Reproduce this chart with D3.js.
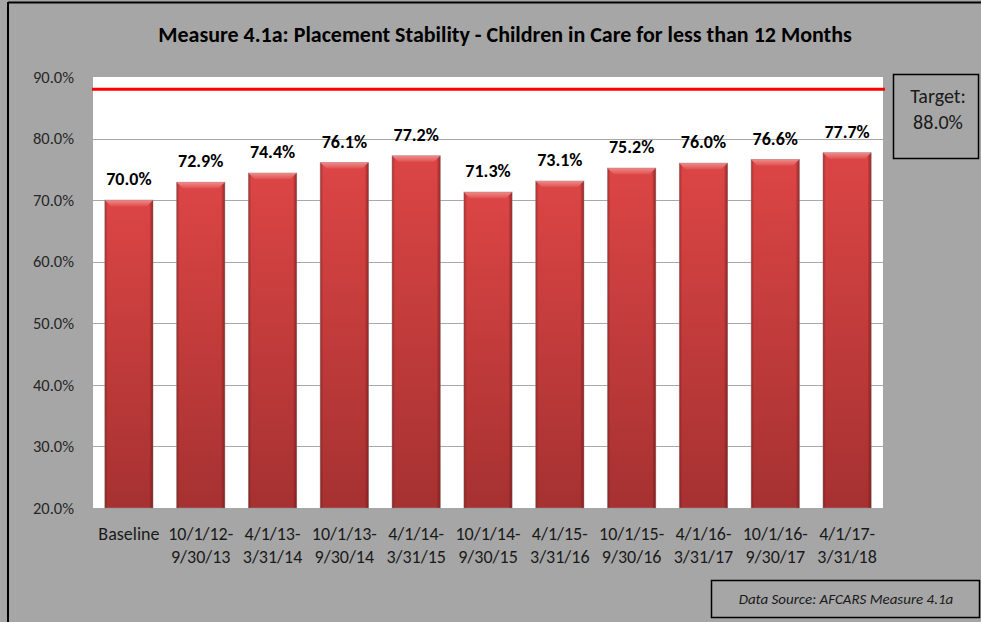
<!DOCTYPE html>
<html>
<head>
<meta charset="utf-8">
<script src="https://cdn.jsdelivr.net/npm/d3@7"></script>
<style>
  html, body { margin: 0; padding: 0; background: #a6a6a6; }
  svg { display: block; }
  text { font-family: Carlito, Calibri, Lato, "Open Sans", sans-serif; }
</style>
</head>
<body>
<svg id="chart" width="981" height="622"></svg>
<script>
// Reporting periods (two-line category labels)
const periodLine1 = ["Baseline", "10/1/12-", "4/1/13-", "10/1/13-", "4/1/14-", "10/1/14-", "4/1/15-", "10/1/15-", "4/1/16-", "10/1/16-", "4/1/17-"];
const periodLine2 = ["", "9/30/13", "3/31/14", "9/30/14", "3/31/15", "9/30/15", "3/31/16", "9/30/16", "3/31/17", "9/30/17", "3/31/18"];
// Placement stability percentages
const stability = [70.0, 72.9, 74.4, 76.1, 77.2, 71.3, 73.1, 75.2, 76.0, 76.6, 77.7];
// Axis ticks and target
const yTicks = [20, 30, 40, 50, 60, 70, 80, 90];
const targetValue = 88.0;

const svg = d3.select("#chart");
const W = 981, H = 622;
const plot = { left: 93, right: 883, top: 77, bottom: 508 };

// Outer frame
svg.append("rect").attr("x", 0).attr("y", 0).attr("width", W).attr("height", H).attr("fill", "#a6a6a6");
svg.append("line").attr("x1", 8).attr("x2", W).attr("y1", 2.5).attr("y2", 2.5).attr("stroke", "#000").attr("stroke-width", 2);
svg.append("line").attr("x1", 8).attr("x2", 8).attr("y1", 2).attr("y2", H).attr("stroke", "#000").attr("stroke-width", 2);

// Title
svg.append("text")
  .attr("x", 505).attr("y", 42)
  .attr("text-anchor", "middle")
  .attr("font-size", 22).attr("font-weight", "bold").attr("fill", "#000")
  .text("Measure 4.1a: Placement Stability - Children in Care for less than 12 Months");

const x = d3.scaleBand()
  .domain(d3.range(stability.length))
  .range([plot.left, plot.right])
  .paddingInner(0.33).paddingOuter(0.165);

const y = d3.scaleLinear().domain([20, 90]).range([plot.bottom, plot.top]);

// Plot background
svg.append("rect")
  .attr("x", plot.left).attr("y", plot.top)
  .attr("width", plot.right - plot.left).attr("height", plot.bottom - plot.top)
  .attr("fill", "#fff");

// Gridlines
svg.append("g").selectAll("line").data(yTicks.filter(d => d > 20 && d < 90)).join("line")
  .attr("x1", plot.left).attr("x2", plot.right)
  .attr("y1", d => Math.round(y(d)) + 0.5).attr("y2", d => Math.round(y(d)) + 0.5)
  .attr("stroke", "#a8a8a8").attr("stroke-width", 1);

// Y axis labels
const yAxis = d3.axisLeft(y).tickValues(yTicks).tickFormat(d => d.toFixed(1) + "%").tickSize(0).tickPadding(19);
const yg = svg.append("g").attr("transform", `translate(${plot.left},0)`).call(yAxis);
yg.select(".domain").remove();
yg.selectAll("text").attr("font-size", 16.5).attr("fill", "#262626")
  .attr("font-family", "Carlito, Calibri, Lato, sans-serif");

// Gradients for bars
const defs = svg.append("defs");
const gV = defs.append("linearGradient").attr("id", "barV").attr("x1", 0).attr("x2", 0).attr("y1", 0).attr("y2", 1);
gV.append("stop").attr("offset", "0%").attr("stop-color", "#dc4545");
gV.append("stop").attr("offset", "100%").attr("stop-color", "#a63131");
const gH = defs.append("linearGradient").attr("id", "barH").attr("x1", 0).attr("x2", 1).attr("y1", 0).attr("y2", 0);
gH.append("stop").attr("offset", "0%").attr("stop-color", "#5a0000").attr("stop-opacity", 0.35);
gH.append("stop").attr("offset", "6%").attr("stop-color", "#5a0000").attr("stop-opacity", 0);
gH.append("stop").attr("offset", "94%").attr("stop-color", "#5a0000").attr("stop-opacity", 0);
gH.append("stop").attr("offset", "100%").attr("stop-color", "#5a0000").attr("stop-opacity", 0.35);
const gTop = defs.append("linearGradient").attr("id", "barTop").attr("x1", 0).attr("x2", 0).attr("y1", 0).attr("y2", 1);
gTop.append("stop").attr("offset", "0%").attr("stop-color", "#f08a8a");
gTop.append("stop").attr("offset", "100%").attr("stop-color", "#e05252");

const bars = svg.append("g").selectAll("g").data(stability).join("g");
const bw = x.bandwidth();
// bar body with soft outline
bars.append("rect")
  .attr("x", (d, i) => x(i)).attr("y", d => y(d))
  .attr("width", bw).attr("height", d => y(20) - y(d))
  .attr("fill", "url(#barV)")
  .attr("stroke", "#8a8a8a").attr("stroke-opacity", 0.6).attr("stroke-width", 1);
bars.append("rect")
  .attr("x", (d, i) => x(i)).attr("y", d => y(d))
  .attr("width", bw).attr("height", d => y(20) - y(d))
  .attr("fill", "url(#barH)");
// bevelled top edge
const bev = 6;
bars.append("path")
  .attr("d", (d, i) => {
    const x0 = x(i), x1 = x(i) + bw, t = y(d);
    return `M${x0},${t} L${x1},${t} L${x1 - bev},${t + bev} L${x0 + bev},${t + bev} Z`;
  })
  .attr("fill", "url(#barTop)");
bars.append("path")
  .attr("d", (d, i) => {
    const x0 = x(i), x1 = x(i) + bw, t = y(d);
    return `M${x1},${t} L${x1},${y(20)} L${x1 - 3},${y(20)} L${x1 - 3},${t + 3} Z`;
  })
  .attr("fill", "#7a1a1a").attr("opacity", 0.25);

// Value labels
svg.append("g").selectAll("text").data(stability).join("text")
  .attr("x", (d, i) => x(i) + bw / 2).attr("y", d => y(d) - 15)
  .attr("text-anchor", "middle")
  .attr("font-size", 18).attr("font-weight", "bold").attr("fill", "#000")
  .text(d => d.toFixed(1) + "%");

// Category labels
const xl = svg.append("g").selectAll("text").data(periodLine1).join("text")
  .attr("x", (d, i) => x(i) + bw / 2).attr("y", 540)
  .attr("text-anchor", "middle").attr("font-size", 18).attr("fill", "#1a1a1a");
xl.append("tspan").attr("x", (d, i) => x(i) + bw / 2).attr("dy", 0).text(d => d);
xl.append("tspan").attr("x", (d, i) => x(i) + bw / 2).attr("dy", 23).text((d, i) => periodLine2[i]);

// Target line
svg.append("line")
  .attr("x1", plot.left - 1).attr("x2", 885)
  .attr("y1", y(targetValue)).attr("y2", y(targetValue))
  .attr("stroke", "#ff0000").attr("stroke-width", 3);

// Target box
svg.append("rect").attr("x", 893.5).attr("y", 74.5).attr("width", 85).attr("height", 84)
  .attr("fill", "#a6a6a6").attr("stroke", "#000").attr("stroke-width", 1.5);
svg.append("text").attr("x", 938).attr("y", 103).attr("text-anchor", "middle")
  .attr("font-size", 20).attr("fill", "#1a1a1a").text("Target:");
svg.append("text").attr("x", 938).attr("y", 129).attr("text-anchor", "middle")
  .attr("font-size", 20).attr("fill", "#1a1a1a").text(targetValue.toFixed(1) + "%");

// Data source box
svg.append("rect").attr("x", 711.5).attr("y", 580.5).attr("width", 268).attr("height", 37)
  .attr("fill", "#a6a6a6").attr("stroke", "#000").attr("stroke-width", 1.5);
svg.append("text").attr("x", 846).attr("y", 604).attr("text-anchor", "middle")
  .attr("font-size", 15).attr("font-style", "italic").attr("fill", "#1a1a1a")
  .text("Data Source: AFCARS Measure 4.1a");
</script>
</body>
</html>
